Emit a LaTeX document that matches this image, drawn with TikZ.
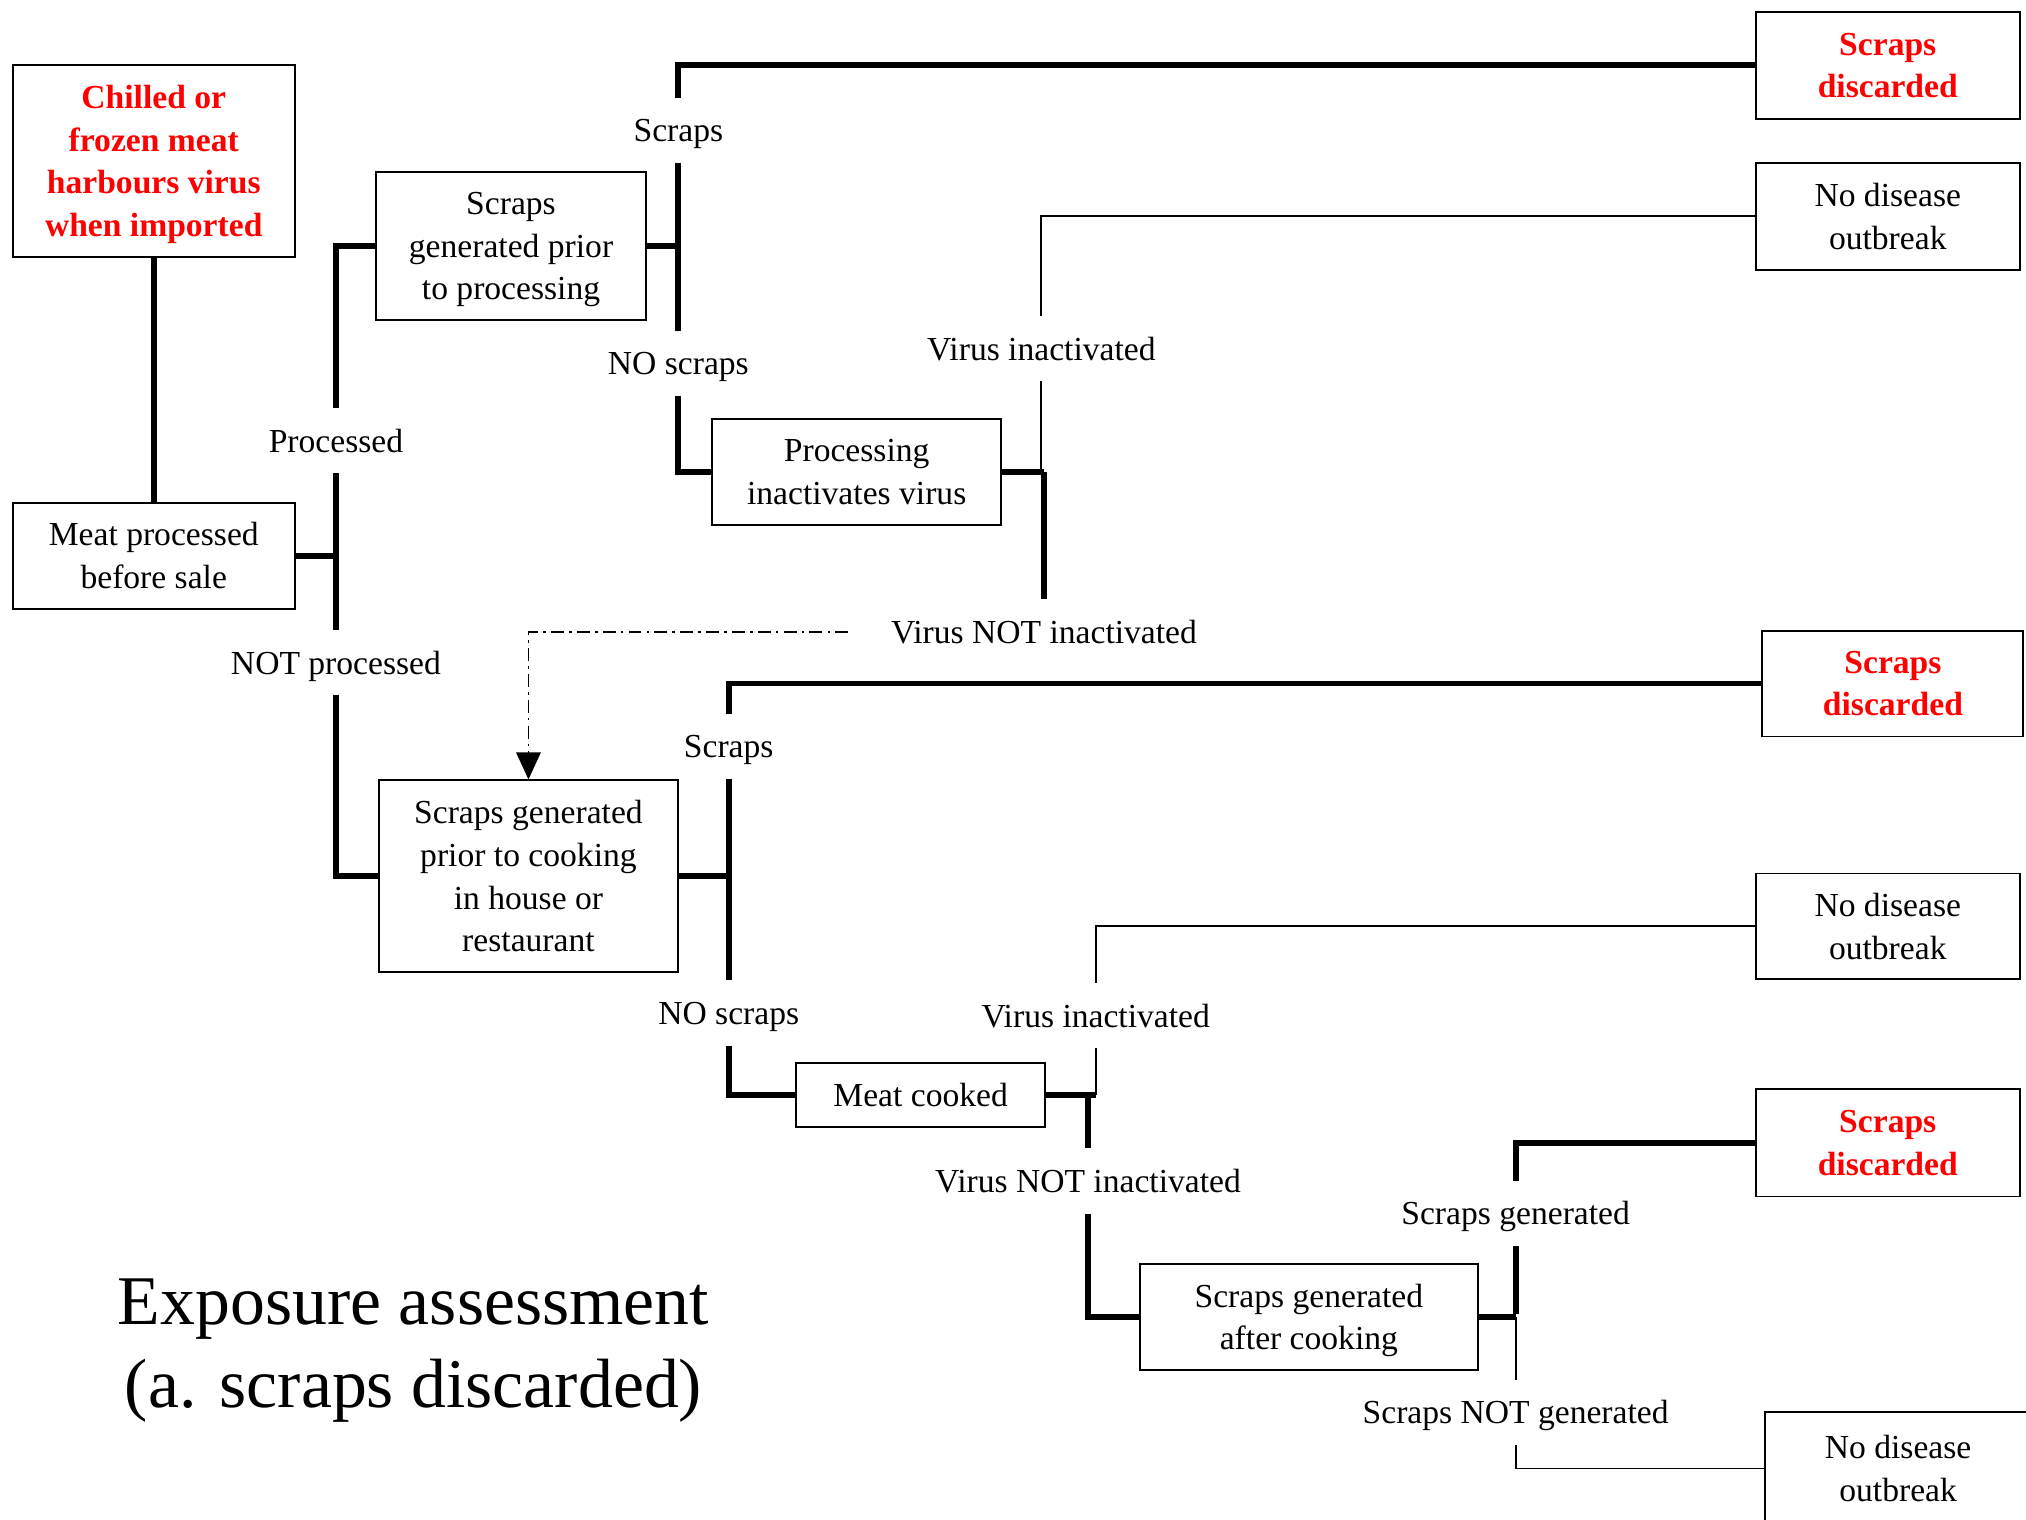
\documentclass[tikz,border=0pt]{standalone}
\usepackage{fontspec}
\setmainfont{Liberation Serif}
\usetikzlibrary{arrows.meta}
\begin{document}
\begin{tikzpicture}[x=1pt,y=-1pt,
  box/.style={draw, line width=1.5pt, align=center, inner sep=0pt, text depth=0pt, font=\fontsize{26}{33}\selectfont},
  redbox/.style={box, text=red, font=\fontsize{26}{33}\selectfont\bfseries},
  lbl/.style={inner sep=0pt, minimum height=50pt, text depth=0pt, font=\fontsize{26}{33}\selectfont},
  thk/.style={line width=4.5pt},
  thn/.style={line width=1.5pt},
  dd/.style={line width=1.3pt, dash pattern=on 10pt off 4pt on 2pt off 4pt}
]
\useasboundingbox (0,0) rectangle (1568,1176);
% boxes
\node[redbox, minimum width=218pt, minimum height=149pt] (A) at (119,124.5) {Chilled or\\frozen meat\\harbours virus\\when imported};
\node[box, minimum width=218pt, minimum height=82pt] (B) at (119,430) {Meat processed\\before sale};
\node[box, minimum width=209pt, minimum height=115pt] (C) at (395.5,190.5) {Scraps\\generated prior\\to processing};
\node[box, minimum width=224pt, minimum height=82pt] (D) at (663,365) {Processing\\inactivates virus};
\node[redbox, minimum width=204pt, minimum height=83pt] (E1) at (1461,50.5) {Scraps\\discarded};
\node[box, minimum width=204pt, minimum height=83pt] (F1) at (1461,167.5) {No disease\\outbreak};
\node[redbox, minimum width=202pt, minimum height=82pt] (E2) at (1465,529) {Scraps\\discarded};
\node[box, minimum width=232pt, minimum height=148pt] (G) at (409,678) {Scraps generated\\prior to cooking\\in house or\\restaurant};
\node[box, minimum width=204pt, minimum height=82pt] (F2) at (1461,717) {No disease\\outbreak};
\node[box, minimum width=193pt, minimum height=49pt] (H) at (712.5,847.5) {Meat cooked};
\node[redbox, minimum width=204pt, minimum height=83pt] (E3) at (1461,884.5) {Scraps\\discarded};
\node[box, minimum width=262pt, minimum height=82pt] (I) at (1013,1019) {Scraps generated\\after cooking};
\node[box, minimum width=206pt, minimum height=87pt] (F3) at (1469,1136.5) {No disease\\outbreak};
% labels
\node[lbl] (lP) at (260,341) {Processed};
\node[lbl] (lNP) at (260,513) {NOT processed};
\node[lbl] (lS1) at (525,101) {Scraps};
\node[lbl] (lNS1) at (525,281) {NO scraps};
\node[lbl] (lVI1) at (806,270) {Virus inactivated};
\node[lbl] (lVN1) at (808,489) {Virus NOT inactivated};
\node[lbl] (lS2) at (564,578) {Scraps};
\node[lbl] (lNS2) at (564,784) {NO scraps};
\node[lbl] (lVI2) at (848,786) {Virus inactivated};
\node[lbl] (lVN2) at (842,914) {Virus NOT inactivated};
\node[lbl] (lSG) at (1173,939) {Scraps generated};
\node[lbl] (lSN) at (1173,1093) {Scraps NOT generated};
% title
\node[align=center, text depth=0pt, font=\fontsize{54}{65}\selectfont] (T) at (320,1039.5) {Exposure assessment\\(a. scraps discarded)};
% connectors
\draw[thk] (A.south) -- (B.north);
\draw[thk] (B.east) -- (lP |- B.east);
\draw[thk] (lP.south) -- (lNP.north);
\draw[thk] (lP.north) |- (C.west);
\draw[thk] (lNP.south) |- (G.west);
% branch after C
\draw[thk] (C.east) -- (lS1 |- C.east);
\draw[thk] (lS1.south) -- (lNS1.north);
\draw[thk] (lS1.north) |- (E1.west);
\draw[thk] (lNS1.south) |- (D.west);
% branch after D
\coordinate (jD) at (lVI1 |- D.east);
\draw[thk] (D.east) -- ([xshift=2.25pt]jD);
\draw[thn] (lVI1.south) -- (jD);
\draw[thn] (lVI1.north) |- (F1.west);
\draw[thk] (lVN1 |- D.east) -- (lVN1.north);
\coordinate (dstart) at ([xshift=-33pt]lVN1.west);
\draw[dd, -{Triangle[width=19pt,length=21pt]}] (dstart) -| (G.north);
% branch after G
\draw[thk] (G.east) -- (lS2 |- G.east);
\draw[thk] (lS2.south) -- (lNS2.north);
\draw[thk] (lS2.north) |- (E2.west);
\draw[thk] (lNS2.south) |- (H.west);
% branch after H
\coordinate (jH) at (lVI2 |- H.east);
\draw[thk] (H.east) -- (jH);
\draw[thn] (lVI2.south) -- (jH);
\draw[thn] (lVI2.north) |- (F2.west);
\draw[thk] (lVN2 |- H.east) -- (lVN2.north);
\draw[thk] (lVN2.south) |- (I.west);
% branch after I
\coordinate (jI) at (lSG |- I.east);
\draw[thk] (I.east) -- (jI);
\draw[thk] (lSG.south) -- ([yshift=2.25pt]jI);
\draw[thk] (lSG.north) |- (E3.west);
\draw[thn] (jI) -- (lSN.north);
\draw[thn] (lSN.south) |- (F3.west);
\end{tikzpicture}
\end{document}
